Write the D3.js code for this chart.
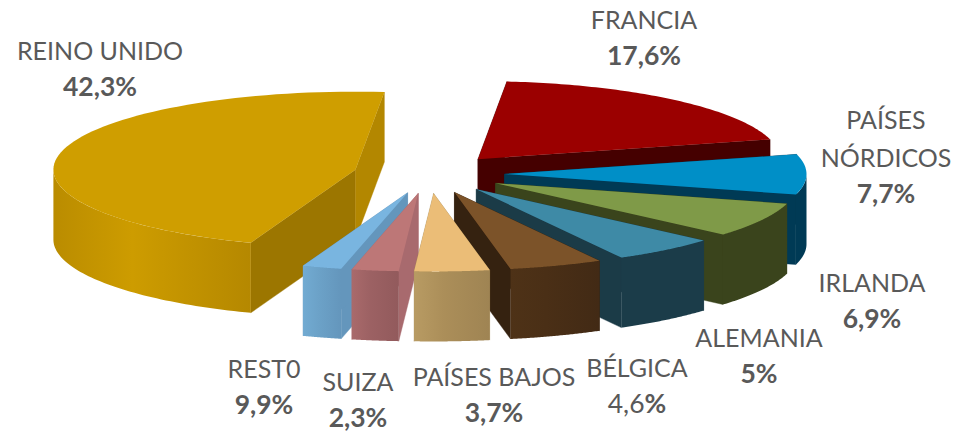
<!DOCTYPE html>
<html><head><meta charset="utf-8">
<script src="https://cdnjs.cloudflare.com/ajax/libs/d3/7.8.5/d3.min.js"></script>
<style>html,body{margin:0;padding:0;background:#fff}svg{display:block}text{font-family:Lato,Carlito,sans-serif;fill:#595959}</style>
</head><body><div id="c"></div>
<script>
const categories=["FRANCIA","PAÍSES NÓRDICOS","IRLANDA","ALEMANIA","BÉLGICA","PAÍSES BAJOS","SUIZA","REST0","REINO UNIDO"];
const labelValues=["17,6%","7,7%","6,9%","5%","4,6%","3,7%","2,3%","9,9%","42,3%"];
const sliceShares=[19.4,8.3,7.2,5.6,5,4,2.5,2.1,45.9];

const topColors=["#9B0000","#008FC7","#7F9A48","#3E8AA6","#7C5329","#EBBD77","#BD7777","#79B5E0","#CF9E00"];
const wallFrom=["#450000","#003A55","#3A441C","#1B3C49","#4E3217","#B89B63","#A96A6B","#72ABD2","#BA8C00"];
const wallMid=["#450000","#003A55","#3A441C","#1B3C49","#4A2F16","#AB8E59","#9C6163","#6CA2C8","#CD9C00"];
const wallTo=["#450000","#003A55","#3A441C","#1B3C49","#422A15","#9F8453","#925A5C","#6496BC","#B58800"];
const sideA=["#450000","#003A55","#3A441C","#1B3B47","#352210","#A68A57","#A86A6E","#6496BC","#9C7600"];
const sideB=["#450000","#003A55","#3A441C","#1B3B47","#352210","#A68A57","#A86A6E","#6496BC","#B38700"];
const labelAnchors=[[644,29],[886,129],[872,292],[759,347],[637,377],[494,386],[358,391],[264,378],[100,60]];

const W=956,H=435,depth=70,explode=0.25;
const sx=d3.scaleLinear().domain([-1,1]).range([429-302,429+302]);
const sy=d3.scaleLinear().domain([-1,1]).range([174-78,174+78]);
const svg=d3.select("#c").append("svg").attr("width",W).attr("height",H);
const defs=svg.append("defs");
const pie=d3.pie().sort(null).value(d=>d).startAngle(5.5*Math.PI/180).endAngle(365.5*Math.PI/180);
const arcs=pie(sliceShares);
const line=d3.line().x(d=>d[0]).y(d=>d[1]);
const drawOrder=[0,8,1,2,3,4,7,6,5];

drawOrder.forEach(i=>{
  const a=arcs[i];
  const t0=a.startAngle-Math.PI/2,t1=a.endAngle-Math.PI/2,tm=(t0+t1)/2;
  const ox=explode*Math.cos(tm),oy=explode*Math.sin(tm);
  const P=(t,dz=0)=>[sx(ox+Math.cos(t)),sy(oy+Math.sin(t))+dz];
  const C=(dz=0)=>[sx(ox),sy(oy)+dz];
  const g=svg.append("g").attr("class","slice").attr("data-name",categories[i]);
  const N=80;
  const arcPts=d3.range(N+1).map(k=>P(t0+(t1-t0)*k/N));
  g.append("path").attr("d",line([C(),P(t0),P(t0,depth),C(depth)])+"Z").attr("fill",sideA[i]).attr("stroke",sideA[i]).attr("stroke-width",0.4);
  g.append("path").attr("d",line([C(),P(t1),P(t1,depth),C(depth)])+"Z").attr("fill",sideB[i]).attr("stroke",sideB[i]).attr("stroke-width",0.4);
  [[0,Math.PI],[2*Math.PI,3*Math.PI]].forEach(([lo,hi],ri)=>{
    const s=Math.max(t0,lo),e=Math.min(t1,hi);
    if(e<=s)return;
    const M=60;
    const up=d3.range(M+1).map(k=>P(s+(e-s)*k/M));
    const dn=d3.range(M+1).map(k=>P(e-(e-s)*k/M,depth));
    const id="w"+i+"_"+ri;
    const xs=up.map(p=>p[0]);
    const gr=defs.append("linearGradient").attr("id",id).attr("gradientUnits","userSpaceOnUse")
      .attr("x1",d3.min(xs)).attr("x2",d3.max(xs)).attr("y1",0).attr("y2",0);
    gr.append("stop").attr("offset","0%").attr("stop-color",wallFrom[i]);
    gr.append("stop").attr("offset","40%").attr("stop-color",wallMid[i]);
    gr.append("stop").attr("offset","100%").attr("stop-color",wallTo[i]);
    g.append("path").attr("d",line(up.concat(dn))+"Z").attr("fill","url(#"+id+")");
  });
  g.append("path").attr("d",line([C()].concat(arcPts))+"Z").attr("fill",topColors[i]);
});

const labels=svg.append("g");
categories.forEach((c,i)=>{
  const [x,y]=labelAnchors[i];
  const lines=c==="PAÍSES NÓRDICOS"?["PAÍSES","NÓRDICOS"]:[c];
  const t=labels.append("text").attr("text-anchor","middle").attr("font-size",25);
  lines.forEach((l,k)=>t.append("tspan").attr("x",x).attr("y",y+k*38).text(l));
  const v=labels.append("text").attr("text-anchor","middle").attr("font-size",26.5)
    .attr("x",x).attr("y",y+(lines.length-1)*38+36);
  if(c==="BÉLGICA"){
    const m=labelValues[i].replace("%","");
    v.append("tspan").attr("font-weight",400).text(m);
    v.append("tspan").attr("font-weight",700).text("%");
  } else {
    v.attr("font-weight",700).text(labelValues[i]);
  }
});
</script></body></html>
